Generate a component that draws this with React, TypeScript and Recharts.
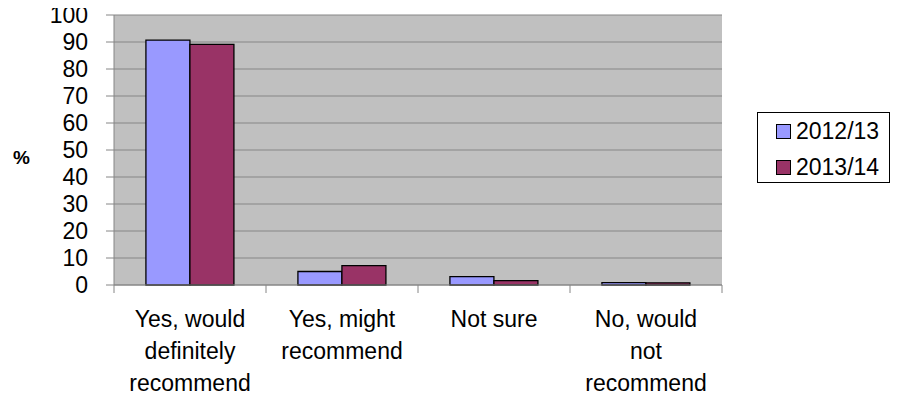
import { BarChart, Bar, XAxis, YAxis, CartesianGrid } from 'recharts';

const categoryLines = [
  ['Yes, would', 'definitely', 'recommend'],
  ['Yes, might', 'recommend'],
  ['Not sure'],
  ['No, would', 'not', 'recommend'],
];
const values2012 = [90.7, 5.0, 3.1, 0.9];
const values2013 = [89.1, 7.2, 1.6, 0.8];
const yTicks = [0, 10, 20, 30, 40, 50, 60, 70, 80, 90, 100];

const seriesInfo = [
  { key: 's2012', name: '2012/13', color: '#9999FF' },
  { key: 's2013', name: '2013/14', color: '#993366' },
];

const data = categoryLines.map((lines, i) => ({
  name: lines.join('\n'),
  s2012: values2012[i],
  s2013: values2013[i],
}));

const FONT = '"Liberation Sans", Arial, sans-serif';
const GRID = '#868686';
const FS = 23;

const W = 899;
const H = 399;
const X_HEIGHT = 30;
const MARGIN = { top: 15, right: 177, bottom: 84, left: 0 };
const Y_WIDTH = 114;
const halfBand = (W - MARGIN.left - MARGIN.right - Y_WIDTH) / categoryLines.length / 2;

function CategoryTick(props: any) {
  const { x, y, payload, index } = props;
  const half = payload && payload.offset ? payload.offset : halfBand;
  const lines = String(payload.value).split('\n');
  return (
    <g>
      <line x1={x - half} x2={x - half} y1={y} y2={y + 8} stroke={GRID} strokeWidth={1} />
      {index === categoryLines.length - 1 && (
        <line x1={x + half} x2={x + half} y1={y} y2={y + 8} stroke={GRID} strokeWidth={1} />
      )}
      <text x={x} y={y + 42} textAnchor="middle" fontFamily={FONT} fontSize={FS} fill="#000">
        {lines.map((l, i) => (
          <tspan key={i} x={x} dy={i === 0 ? 0 : 32}>
            {l}
          </tspan>
        ))}
      </text>
    </g>
  );
}

export default function App() {
  return (
    <div style={{ position: 'relative', width: W, height: H, margin: -8, fontFamily: FONT }}>
      <BarChart
        width={W}
        height={H}
        data={data}
        margin={MARGIN}
        barCategoryGap="21%"
        barGap={0}
      >
        <CartesianGrid fill="#C0C0C0" stroke={GRID} vertical={false} strokeWidth={1} />
        <XAxis
          dataKey="name"
          height={X_HEIGHT}
          stroke={GRID}
          tickLine={false}
          tickSize={0}
          tickMargin={0}
          interval={0}
          tick={<CategoryTick />}
        />
        <YAxis
          width={Y_WIDTH}
          domain={[0, 100]}
          ticks={yTicks}
          interval={0}
          stroke={GRID}
          tickSize={8}
          tickMargin={18}
          tick={{ fill: '#000', fontSize: FS, fontFamily: FONT }}
          label={{
            value: '%',
            position: 'insideLeft',
            offset: 13,
            dy: 7,
            style: { fill: '#000', fontSize: 19, fontWeight: 'bold', fontFamily: FONT },
          }}
        />
        {seriesInfo.map((s) => (
          <Bar
            key={s.key}
            dataKey={s.key}
            name={s.name}
            fill={s.color}
            stroke="#000"
            strokeWidth={1.3}
            isAnimationActive={false}
          />
        ))}
      </BarChart>
      <div
        style={{
          position: 'absolute',
          left: 757,
          top: 112,
          width: 133,
          height: 71,
          border: '1px solid #000',
          boxSizing: 'border-box',
          paddingLeft: 18,
          background: '#fff',
        }}
      >
        {seriesInfo.map((s) => (
          <div
            key={s.key}
            style={{ display: 'flex', alignItems: 'center', height: 36, fontSize: FS, color: '#000' }}
          >
            <span
              style={{
                display: 'inline-block',
                width: 13,
                height: 13,
                background: s.color,
                border: '1px solid #000',
                marginRight: 5,
                flexShrink: 0,
              }}
            />
            {s.name}
          </div>
        ))}
      </div>
    </div>
  );
}
